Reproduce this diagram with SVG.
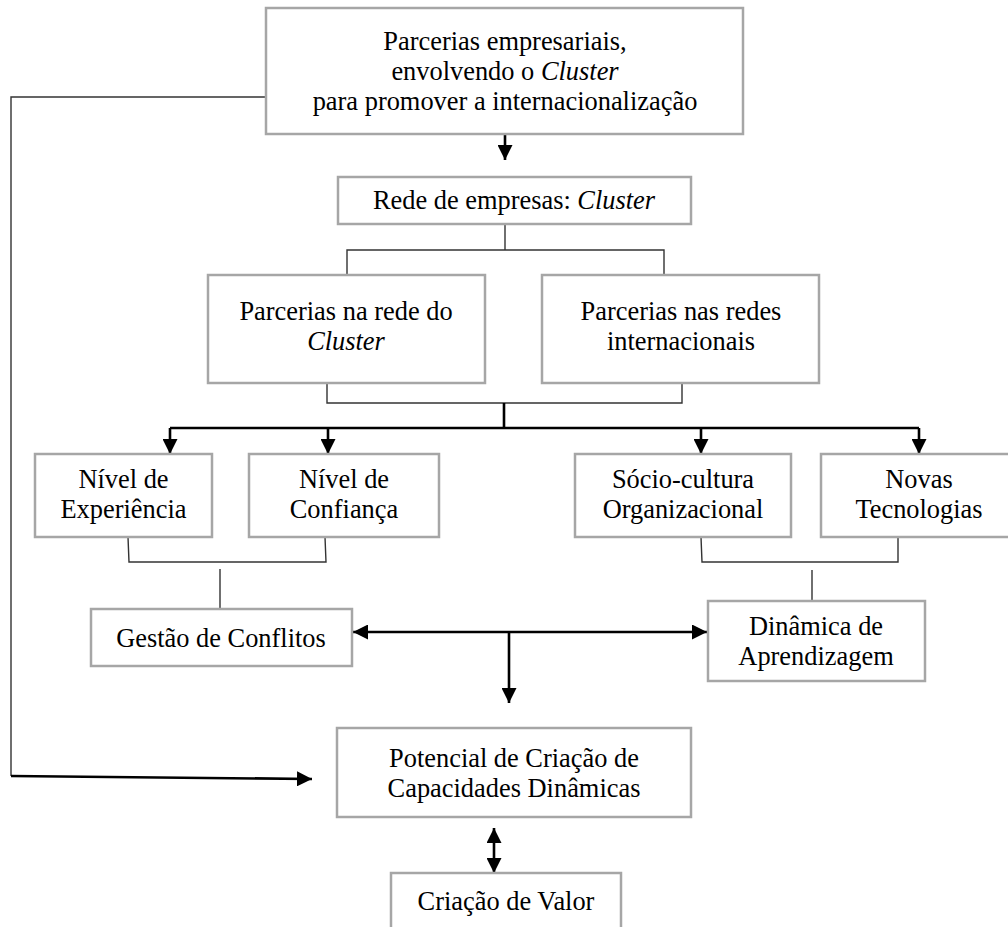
<svg xmlns="http://www.w3.org/2000/svg" width="1008" height="927" viewBox="0 0 1008 927">
<defs>
<style>
.box{fill:#fff;stroke:#a6a6a6;stroke-width:2.5}
.t{font-family:"Liberation Serif","Times New Roman",serif;font-size:26.4px;fill:#000;text-anchor:middle}
.i{font-style:italic}
.thin{fill:none;stroke:#333;stroke-width:1.4}
.thick{fill:none;stroke:#000;stroke-width:2.6}
</style>
<marker id="ah" viewBox="0 0 15 15" refX="15" refY="7.5" markerWidth="15" markerHeight="15" markerUnits="userSpaceOnUse" orient="auto-start-reverse">
<path d="M0,0 L15,7.5 L0,15 z" fill="#000"/>
</marker>
</defs>
<rect width="1008" height="927" fill="#fff"/>
<g id="connectors">
<polyline class="thin" points="266,97 11,97 11,776"/>
<polyline class="thick" points="11,776 312,779" marker-end="url(#ah)"/>
<line class="thick" x1="505" y1="134" x2="505" y2="160" marker-end="url(#ah)"/>
<polyline class="thin" points="505,224 505,250"/>
<polyline class="thin" points="347,275 347,250 664,250 664,275"/>
<polyline class="thin" points="327,383 327,403 682,403 682,383"/>
<line class="thick" x1="504" y1="403" x2="504" y2="428"/>
<line class="thick" x1="170" y1="428" x2="919" y2="428"/>
<line class="thick" x1="170" y1="428" x2="170" y2="454" marker-end="url(#ah)"/>
<line class="thick" x1="328" y1="428" x2="328" y2="454" marker-end="url(#ah)"/>
<line class="thick" x1="701" y1="428" x2="701" y2="454" marker-end="url(#ah)"/>
<line class="thick" x1="919" y1="428" x2="919" y2="454" marker-end="url(#ah)"/>
<polyline class="thin" points="128,537 129,562 326,562 325,537"/>
<line class="thin" x1="220" y1="569" x2="220" y2="608"/>
<polyline class="thin" points="701,537 702,562 898,562 898,537"/>
<line class="thin" x1="812" y1="570" x2="812" y2="601"/>
<line class="thick" x1="353" y1="632" x2="707" y2="632" marker-start="url(#ah)" marker-end="url(#ah)"/>
<line class="thick" x1="509" y1="632" x2="509" y2="703" marker-end="url(#ah)"/>
<line class="thick" x1="494" y1="828" x2="494" y2="873" marker-start="url(#ah)" marker-end="url(#ah)"/>
</g>
<g id="n-top">
<rect class="box" x="266" y="8" width="477" height="126"/>
<text class="t" x="505" y="50">Parcerias empresariais,</text>
<text class="t" x="505" y="80">envolvendo o <tspan class="i">Cluster</tspan></text>
<text class="t" x="505" y="110">para promover a internacionalização</text>
</g>
<g id="n-rede">
<rect class="box" x="338" y="177" width="353" height="47"/>
<text class="t" x="514" y="209">Rede de empresas: <tspan class="i">Cluster</tspan></text>
</g>
<g id="n-parc-cluster">
<rect class="box" x="208" y="275" width="277" height="108"/>
<text class="t" x="346" y="320">Parcerias na rede do</text>
<text class="t i" x="346" y="350">Cluster</text>
</g>
<g id="n-parc-intl">
<rect class="box" x="542" y="275" width="277" height="108"/>
<text class="t" x="681" y="320">Parcerias nas redes</text>
<text class="t" x="681" y="350">internacionais</text>
</g>
<g id="n-experiencia">
<rect class="box" x="35" y="454" width="177" height="83"/>
<text class="t" x="123.5" y="488">Nível de</text>
<text class="t" x="123.5" y="518">Experiência</text>
</g>
<g id="n-confianca">
<rect class="box" x="249" y="454" width="190" height="83"/>
<text class="t" x="344" y="488">Nível de</text>
<text class="t" x="344" y="518">Confiança</text>
</g>
<g id="n-socio">
<rect class="box" x="575" y="454" width="216" height="83"/>
<text class="t" x="683" y="488">Sócio-cultura</text>
<text class="t" x="683" y="518">Organizacional</text>
</g>
<g id="n-novas">
<rect class="box" x="821" y="454" width="196" height="83"/>
<text class="t" x="919" y="488">Novas</text>
<text class="t" x="919" y="518">Tecnologias</text>
</g>
<g id="n-gestao">
<rect class="box" x="91" y="609" width="261" height="57"/>
<text class="t" x="221" y="647">Gestão de Conflitos</text>
</g>
<g id="n-dinamica">
<rect class="box" x="708" y="601" width="217" height="80"/>
<text class="t" x="816" y="635">Dinâmica de</text>
<text class="t" x="816" y="665">Aprendizagem</text>
</g>
<g id="n-potencial">
<rect class="box" x="337" y="728" width="354" height="89"/>
<text class="t" x="514" y="767">Potencial de Criação de</text>
<text class="t" x="514" y="797">Capacidades Dinâmicas</text>
</g>
<g id="n-valor">
<rect class="box" x="391" y="873" width="230" height="70"/>
<text class="t" x="506" y="910">Criação de Valor</text>
</g>
</svg>
